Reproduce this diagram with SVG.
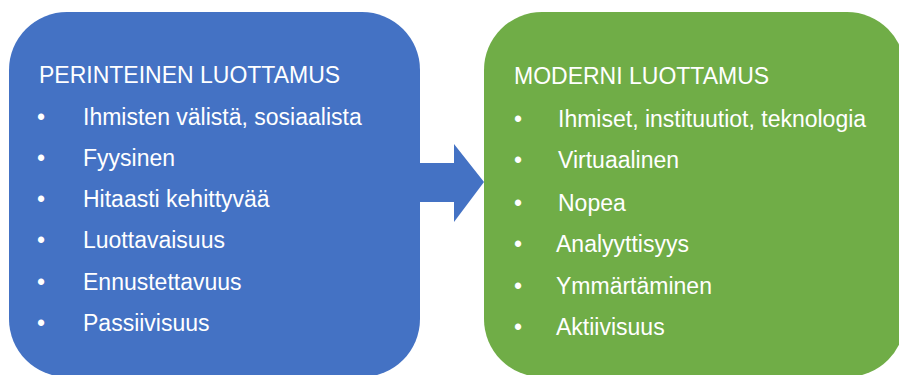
<svg xmlns="http://www.w3.org/2000/svg" width="899" height="375" viewBox="0 0 899 375">
  <style>
    .box-blue { fill: #4472C4; }
    .box-green { fill: #70AD47; }
    .arrow { fill: #4472C4; }
    text { font-family: "Liberation Sans", Arial, sans-serif; font-size: 23px; fill: #FFFFFF; }
  </style>
  <rect width="899" height="375" fill="#FFFFFF"/>

  <g id="traditional-trust">
    <rect class="box-blue" x="9" y="12" width="411" height="365" rx="58" ry="58"/>
    <text x="39" y="83">PERINTEINEN LUOTTAMUS</text>
    <text x="37" y="125">•</text><text x="83" y="125">Ihmisten välistä, sosiaalista</text>
    <text x="37" y="166">•</text><text x="83" y="166">Fyysinen</text>
    <text x="37" y="207">•</text><text x="83" y="207">Hitaasti kehittyvää</text>
    <text x="37" y="248">•</text><text x="83" y="248">Luottavaisuus</text>
    <text x="37" y="290">•</text><text x="83" y="290">Ennustettavuus</text>
    <text x="37" y="331">•</text><text x="83" y="331">Passiivisuus</text>
  </g>

  <g id="modern-trust">
    <rect class="box-green" x="484" y="12" width="421" height="365" rx="58" ry="58"/>
    <text x="514" y="84">MODERNI LUOTTAMUS</text>
    <text x="514" y="127">•</text><text x="558" y="127">Ihmiset, instituutiot, teknologia</text>
    <text x="514" y="168">•</text><text x="558" y="168">Virtuaalinen</text>
    <text x="514" y="211">•</text><text x="558" y="211">Nopea</text>
    <text x="514" y="252">•</text><text x="556" y="252">Analyyttisyys</text>
    <text x="514" y="294">•</text><text x="556" y="294">Ymmärtäminen</text>
    <text x="514" y="335">•</text><text x="556" y="335">Aktiivisuus</text>
  </g>

  <g id="connectors">
    <polygon class="arrow" points="420,163 454,163 454,144 484,182 454,222 454,202 420,202"/>
  </g>
</svg>
